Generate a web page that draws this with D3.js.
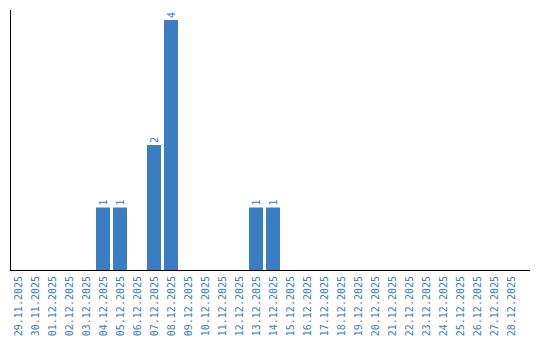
<!DOCTYPE html>
<html>
<head>
<meta charset="utf-8">
<script src="https://cdn.jsdelivr.net/npm/d3@7"></script>
<style>
body { margin: 0; background: #fff; }
text { font-family: "DejaVu Sans Mono", monospace; font-size: 10px; fill: #3a7dc2; }
</style>
</head>
<body>
<div id="chart"></div>
<script>
var dates = ["29.11.2025","30.11.2025","01.12.2025","02.12.2025","03.12.2025","04.12.2025",
	"05.12.2025","06.12.2025","07.12.2025","08.12.2025","09.12.2025","10.12.2025",
	"11.12.2025","12.12.2025","13.12.2025","14.12.2025","15.12.2025","16.12.2025",
	"17.12.2025","18.12.2025","19.12.2025","20.12.2025","21.12.2025","22.12.2025",
	"23.12.2025","24.12.2025","25.12.2025","26.12.2025","27.12.2025","28.12.2025"];
var counts = [0,0,0,0,0,1, 1,0,2,4,0,0, 0,0,1,1,0,0, 0,0,0,0,0,0, 0,0,0,0,0,0];

var width = 540;
var height = 340;
var base = 270;
var color = "#3a7dc2";

var svg = d3.select("#chart").append("svg")
	.attr("width", width)
	.attr("height", height);

var x = d3.scaleBand()
	.domain(dates)
	.range([11, 518])
	.paddingInner(3/17)
	.paddingOuter(0);

var y = d3.scaleLinear()
	.domain([0, 4])
	.range([base, 20]);

var data = dates.map(function(d, i) { return {date: d, v: counts[i]}; });

svg.selectAll("rect.bar").data(data.filter(function(d) { return d.v > 0; }))
	.enter().append("rect")
	.attr("class", "bar")
	.attr("x", function(d) { return x(d.date); })
	.attr("y", function(d) { return y(d.v); })
	.attr("width", x.bandwidth())
	.attr("height", function(d) { return base - y(d.v); })
	.style("fill", color);

// value labels
svg.selectAll("text.val").data(data.filter(function(d) { return d.v > 0; }))
	.enter().append("text")
	.attr("class", "val")
	.attr("transform", function(d) {
		return "translate(" + (x(d.date) + x.bandwidth()/2 + 3.5) + "," + (y(d.v) - 2) + ") rotate(-90)";
	})
	.text(function(d) { return d.v; });

// date labels
svg.selectAll("text.date").data(dates)
	.enter().append("text")
	.attr("class", "date")
	.attr("text-anchor", "end")
	.attr("transform", function(d) {
		return "translate(" + (x(d) + x.bandwidth()/2 + 3.5) + "," + (base + 6) + ") rotate(-90)";
	})
	.text(function(d) { return d; });

// axes lines
svg.append("line")
	.attr("x1", 10.5).attr("x2", 10.5)
	.attr("y1", 10).attr("y2", base)
	.style("stroke", "#000").style("stroke-width", 1);
svg.append("line")
	.attr("x1", 10).attr("x2", 530)
	.attr("y1", base + 0.5).attr("y2", base + 0.5)
	.style("stroke", "#000").style("stroke-width", 1);
</script>
</body>
</html>
